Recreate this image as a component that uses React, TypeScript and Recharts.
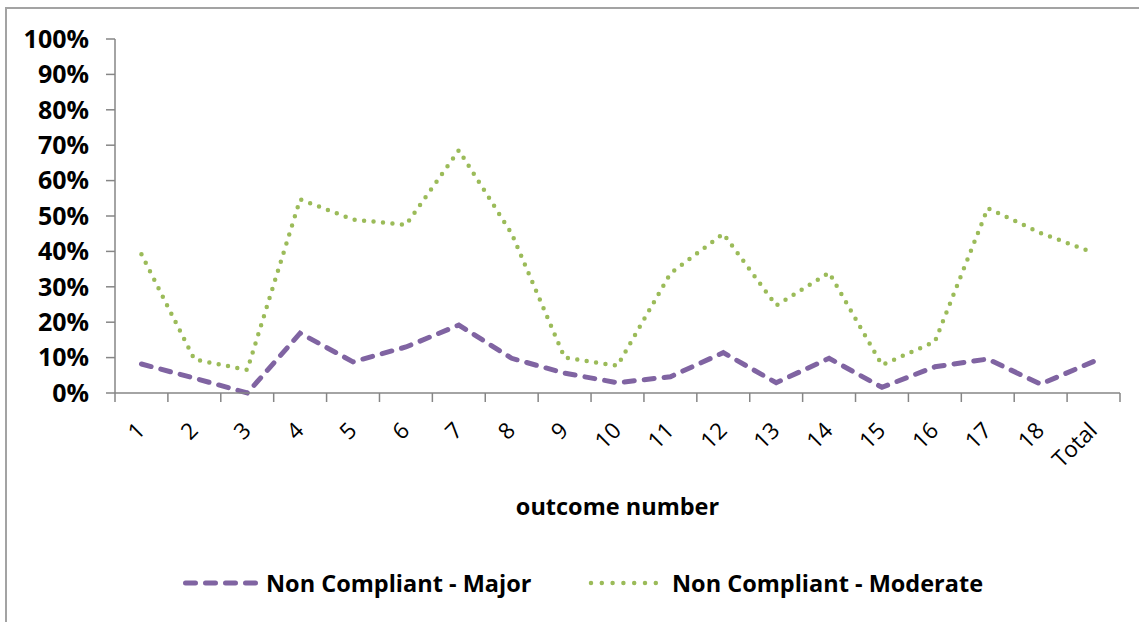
import React from 'react';
import { LineChart, Line, XAxis, YAxis, Legend, Label } from 'recharts';

const categories = ['1', '2', '3', '4', '5', '6', '7', '8', '9', '10', '11', '12', '13', '14', '15', '16', '17', '18', 'Total'];
const major = [0.082, 0.042, 0.0, 0.169, 0.088, 0.13, 0.192, 0.098, 0.056, 0.029, 0.046, 0.114, 0.029, 0.098, 0.016, 0.074, 0.096, 0.025, 0.089];
const moderate = [0.392, 0.095, 0.065, 0.547, 0.49, 0.475, 0.686, 0.45, 0.1, 0.077, 0.338, 0.45, 0.247, 0.34, 0.079, 0.145, 0.522, 0.452, 0.396];
const yTicks = [0, 0.1, 0.2, 0.3, 0.4, 0.5, 0.6, 0.7, 0.8, 0.9, 1];
const seriesNames = ['Non Compliant - Major', 'Non Compliant - Moderate'];

const data = categories.map((c, i) => ({ cat: c, major: major[i], moderate: moderate[i] }));

const PURPLE = '#8064A2';
const GREEN = '#9BBB59';
const AXIS = '#868686';
const FONT = '"Open Sans", Lato, sans-serif';

const XTick = (props: any) => {
  const { x, y, payload, index } = props;
  const half = payload && typeof payload.offset === 'number' && payload.offset > 0 ? payload.offset : 26.45;
  const last = index === categories.length - 1;
  return (
    <g>
      <line x1={x - half} x2={x - half} y1={y} y2={y + 9} stroke={AXIS} strokeWidth={1.5} />
      {last && <line x1={x + half} x2={x + half} y1={y} y2={y + 9} stroke={AXIS} strokeWidth={1.5} />}
      <text
        x={x + 5}
        y={y + 39}
        textAnchor="end"
        transform={`rotate(-45 ${x + 5} ${y + 39})`}
        fontSize={22.5}
        fontFamily={FONT}
        fill="#000"
      >
        {payload.value}
      </text>
    </g>
  );
};

const renderLegend = () => (
  <div style={{ position: 'relative', width: 1139, height: 30, fontFamily: FONT, fontWeight: 700, fontSize: 23.5, color: '#000' }}>
    <div style={{ position: 'absolute', left: 183, top: 0, height: 30, display: 'flex', alignItems: 'center', whiteSpace: 'nowrap' }}>
      <svg width={78} height={10} style={{ display: 'block' }}>
        <line x1={2.5} x2={76} y1={5} y2={5} stroke={PURPLE} strokeWidth={5} strokeDasharray="10 10" strokeLinecap="round" />
      </svg>
      <span style={{ marginLeft: 5, lineHeight: '30px' }}>{seriesNames[0]}</span>
    </div>
    <div style={{ position: 'absolute', left: 588, top: 0, height: 30, display: 'flex', alignItems: 'center', whiteSpace: 'nowrap' }}>
      <svg width={72} height={10} style={{ display: 'block' }}>
        <line x1={3} x2={70} y1={5} y2={5} stroke={GREEN} strokeWidth={4.5} strokeDasharray="0 10.8" strokeLinecap="round" />
      </svg>
      <span style={{ marginLeft: 12, lineHeight: '30px' }}>{seriesNames[1]}</span>
    </div>
  </div>
);

export default function App() {
  return (
    <div style={{ position: 'fixed', left: 0, top: 0, width: 1139, height: 622, background: '#fff', overflow: 'hidden' }}>
      <div
        style={{
          position: 'absolute',
          left: 5,
          top: 7,
          width: 1200,
          height: 700,
          borderLeft: '2px solid #a3a3a3',
          borderTop: '2px solid #a3a3a3',
        }}
      />
      <LineChart width={1139} height={622} data={data} margin={{ top: 39, right: 19, left: 0, bottom: 0 }}>
        <XAxis
          dataKey="cat"
          scale="band"
          height={229}
          interval={0}
          tickLine={false}
          tickSize={0}
          tickMargin={0}
          tick={<XTick />}
          axisLine={{ stroke: AXIS, strokeWidth: 1.5 }}
        >
          <Label
            value="outcome number"
            position="insideBottom"
            offset={107}
            fontSize={23.5}
            fontWeight={700}
            fontFamily={FONT}
            fill="#000"
          />
        </XAxis>
        <YAxis
          width={115}
          domain={[0, 1]}
          ticks={yTicks}
          interval={0}
          tickFormatter={(v: number) => `${Math.round(v * 100)}%`}
          tickSize={9}
          tickMargin={17}
          tickLine={{ stroke: AXIS, strokeWidth: 1.5 }}
          axisLine={{ stroke: AXIS, strokeWidth: 1.5 }}
          tick={{ fontSize: 25, fontWeight: 700, fontFamily: FONT, fill: '#000' }}
        />
        <Line
          dataKey="major"
          name={seriesNames[0]}
          type="linear"
          stroke={PURPLE}
          strokeWidth={5}
          strokeDasharray="10 10"
          strokeLinecap="round"
          dot={false}
          activeDot={false}
          isAnimationActive={false}
        />
        <Line
          dataKey="moderate"
          name={seriesNames[1]}
          type="linear"
          stroke={GREEN}
          strokeWidth={4.5}
          strokeDasharray="0 9.5"
          strokeLinecap="round"
          dot={false}
          activeDot={false}
          isAnimationActive={false}
        />
        <Legend verticalAlign="middle" content={renderLegend} wrapperStyle={{ top: 568, left: 0, width: 1139 }} />
      </LineChart>
    </div>
  );
}
